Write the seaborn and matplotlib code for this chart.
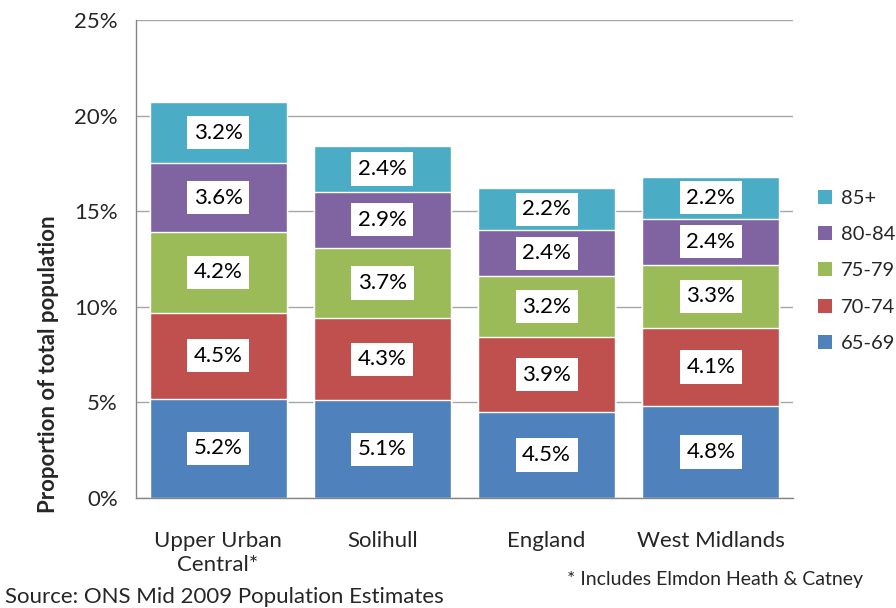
import numpy as np
import pandas as pd
import matplotlib
matplotlib.use("Agg")
import matplotlib.pyplot as plt
from matplotlib.patches import Patch
import seaborn as sns

# Data (percent of total population)
areas = ["Upper Urban\nCentral*", "Solihull", "England", "West Midlands"]
age_bands = ["65-69", "70-74", "75-79", "80-84", "85+"]
pct_65_69 = [5.2, 5.1, 4.5, 4.8]
pct_70_74 = [4.5, 4.3, 3.9, 4.1]
pct_75_79 = [4.2, 3.7, 3.2, 3.3]
pct_80_84 = [3.6, 2.9, 2.4, 2.4]
pct_85_up = [3.2, 2.4, 2.2, 2.2]
band_colors = ["#4F81BD", "#C0504D", "#9BBB59", "#8064A2", "#4BACC6"]

df = pd.DataFrame({
    "area": areas,
    "65-69": pct_65_69,
    "70-74": pct_70_74,
    "75-79": pct_75_79,
    "80-84": pct_80_84,
    "85+": pct_85_up,
})
cum = df[age_bands].cumsum(axis=1)

sns.set_style("white")
plt.rcParams["font.family"] = ["Lato", "DejaVu Sans"]
FS = 16

fig = plt.figure(figsize=(8.96, 6.08), dpi=100)
ax = fig.add_axes([136 / 896, 110 / 608, 657 / 896, 478 / 608])

# draw the cumulative totals from the top band down so lower bands cover them
for band, col in reversed(list(zip(age_bands, band_colors))):
    sns.barplot(x=df["area"], y=cum[band], color=col, width=0.835,
                saturation=1, ax=ax, zorder=2)

# value labels in white boxes at the middle of each segment
for i in range(len(areas)):
    prev = 0
    for band in age_bands:
        v = df.loc[i, band]
        ax.text(i, prev + v / 2, f"{v:.1f}%", ha="center", va="center",
                fontsize=FS, color="black", zorder=5,
                bbox=dict(boxstyle="square,pad=0.3", fc="white", ec="none"))
        prev += v

ax.set_ylim(0, 25)
ax.set_xlim(-0.5, len(areas) - 0.5)
ax.set_yticks(np.arange(0, 26, 5))
ax.set_yticklabels([f"{t}%" for t in range(0, 26, 5)], fontsize=FS)
ax.yaxis.grid(True, color="#A6A6A6", linewidth=1, zorder=0)
ax.set_axisbelow(True)

# category labels sit between the boundary tick marks
ax.set_xticks(np.arange(-0.5, len(areas), 1))
ax.set_xticklabels([])
ax.set_xticks(np.arange(len(areas)), minor=True)
ax.set_xticklabels(areas, minor=True, fontsize=FS)
ax.tick_params(axis="x", which="minor", length=0, pad=24)
ax.tick_params(axis="x", which="major", length=6, color="#868686", direction="out")
ax.tick_params(axis="y", length=7, color="#868686", direction="out", pad=6)

for s in ["top", "right"]:
    ax.spines[s].set_visible(False)
for s in ["left", "bottom"]:
    ax.spines[s].set_color("#868686")
    ax.spines[s].set_linewidth(1)

ax.set_xlabel("")
ax.set_ylabel("Proportion of total population", fontsize=FS,
              fontweight="bold")
ax.yaxis.set_label_coords(-0.117, 0.28)

handles = [Patch(facecolor=c, edgecolor="none", label=b)
           for b, c in zip(age_bands, band_colors)]
ax.legend(handles=list(reversed(handles)), loc="center left",
          bbox_to_anchor=(1.038, 0.475), frameon=False, fontsize=14.5,
          handlelength=0.7, handleheight=0.7, labelspacing=0.95,
          handletextpad=0.45, borderaxespad=0, borderpad=0)

fig.text(5 / 896, 1 - 597 / 608, "Source: ONS Mid 2009 Population Estimates",
         fontsize=FS, va="center", ha="left")
fig.text(567 / 896, 1 - 580 / 608, "* Includes Elmdon Heath & Catney",
         fontsize=14, va="center", ha="left")

fig.savefig("out.png", dpi=100)
